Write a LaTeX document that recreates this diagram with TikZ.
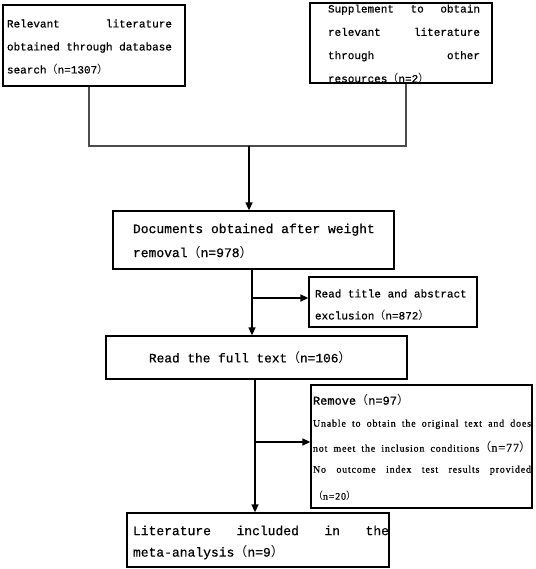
\documentclass[tikz,border=0pt]{standalone}
\usepackage{fontspec}
\setmainfont{Liberation Mono}[FakeBold=0.6]
\newfontfamily\cjk{Noto Sans CJK SC}
\newfontfamily\sserif{Liberation Serif}[LetterSpace=8,FakeBold=0.5]
\usetikzlibrary{arrows.meta}
\newcommand\lp{{\cjk （}}
\newcommand\rp{{\cjk ）}}
\newcommand\bt[4]{\raisebox{\dimexpr-.25em-#2\relax}[0pt][0pt]{\kern#1\parbox[c]{#3}{#4}\kern-#1}}
\begin{document}
\begin{tikzpicture}[x=1bp,y=-1bp,
  box/.style={draw,line width=1.3bp,inner sep=0pt,anchor=center},
  tline/.style={line width=1.2bp,draw=black!70},
  arr/.style={line width=1.3bp,-{Triangle[length=8bp,width=7bp]}}]
\useasboundingbox (0,0) rectangle (536,569);
\fill[white] (0,0) rectangle (536,569);

\node[box,minimum width=182bp,minimum height=81bp] (db) at (94,45.5)
  {\bt{-4.5bp}{1.5bp}{165bp}{\fontsize{11bp}{23bp}\selectfont Relevant\hfill literature\\ obtained through database\\ search\lp n=1307\rp}};
\node[box,minimum width=182bp,minimum height=80bp] (oth) at (401,43)
  {\bt{3bp}{1bp}{152bp}{\fontsize{11bp}{23.3bp}\selectfont Supplement\hfill to\hfill obtain\\ relevant\hfill literature\\ through\hfill other\\ resources\lp n=2\rp}};
\node[box,minimum width=281bp,minimum height=58bp] (dup) at (253.5,240)
  {\bt{1.5bp}{1bp}{244bp}{\fontsize{13bp}{24bp}\selectfont Documents obtained after weight\\ removal\lp n=978\rp}};
\node[box,minimum width=301bp,minimum height=43bp] (full) at (256.5,357.5)
  {\bt{-5bp}{0bp}{205bp}{\fontsize{12.8bp}{15bp}\selectfont Read the full text\lp n=106\rp}};
\node[box,minimum width=168bp,minimum height=50bp] (tit) at (393,302)
  {\bt{-1bp}{3bp}{154bp}{\fontsize{11bp}{22bp}\selectfont Read title and abstract\\ exclusion\lp n=872\rp}};
\node[box,minimum width=221bp,minimum height=123bp] (rem) at (421.5,446.5)
  {\bt{0.5bp}{1bp}{218bp}{\fontsize{10bp}{22bp}\selectfont
   {\fontsize{12bp}{22bp}\selectfont Remove\lp n=97\rp}\\
   \makebox[218bp][s]{\sserif Unable to obtain the original text and does}\\[3bp]
   \makebox[218bp][s]{\sserif not meet the inclusion conditions{\fontsize{12bp}{22bp}\selectfont\lp n=77\rp}}\\[-1bp]
   \makebox[218bp][s]{\sserif No outcome index test results provided}\\[5bp]
   {\sserif\lp n=20\rp}}};
\node[box,minimum width=262bp,minimum height=54bp] (inc) at (258,540)
  {\bt{3bp}{2.5bp}{256bp}{\fontsize{13bp}{21.5bp}\selectfont Literature\hfill included\hfill in\hfill the\\ meta-analysis\lp n=9\rp}};

\coordinate (jl) at (89,146);
\coordinate (jr) at (406,146);
\coordinate (jm) at (249,146);
\coordinate (c1) at (252,298);
\coordinate (c2) at (255,442);

\draw[tline] (db.south -| jl) -- (jl) -- (jr) -- (oth.south -| jr);
\draw[arr] (jm) -- (dup.north -| jm);
\draw[arr] (dup.south -| c1) -- (full.north -| c1);
\draw[arr] (c1) -- (tit.west |- c1);
\draw[arr] (full.south -| c2) -- (inc.north -| c2);
\draw[arr] (c2) -- (rem.west |- c2);
\end{tikzpicture}
\end{document}
